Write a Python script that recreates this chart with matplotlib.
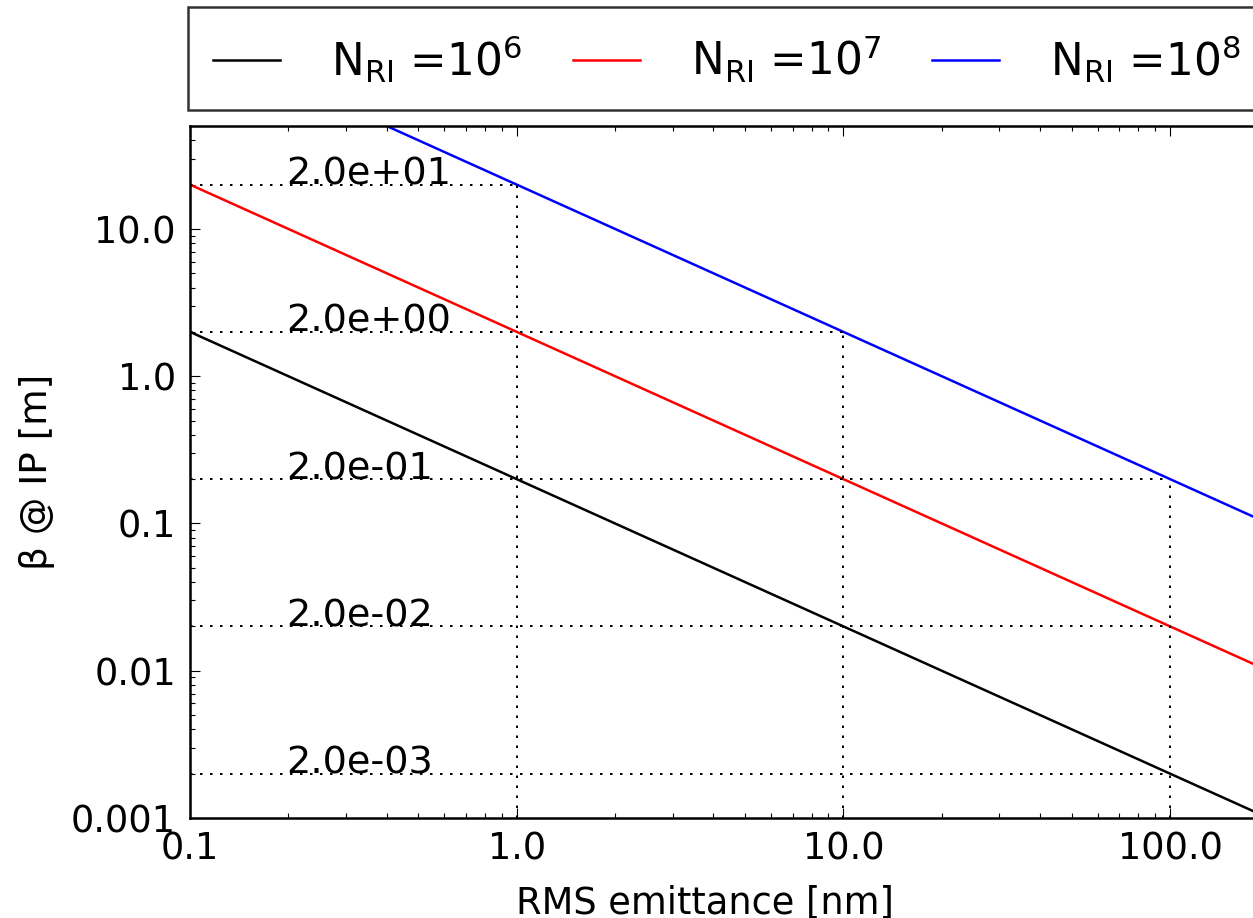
import numpy as np
import matplotlib
matplotlib.use("Agg")
import matplotlib.pyplot as plt
from matplotlib.ticker import NullFormatter, LogLocator

plt.rcParams["font.family"] = ["DejaVu Sans"]
plt.rcParams["mathtext.fontset"] = "dejavusans"
plt.rcParams["mathtext.default"] = "regular"
plt.rcParams["lines.scale_dashes"] = False

# beta* at the IP versus RMS emittance for three particle numbers
emittance = [0.1, 1.0, 10.0, 100.0, 1000.0]
beta_n6 = [2.0, 0.2, 0.02, 0.002, 0.0002]
beta_n7 = [20.0, 2.0, 0.2, 0.02, 0.002]
beta_n8 = [200.0, 20.0, 2.0, 0.2, 0.02]
labels = ["N$_{RI}$ =10$^{6}$", "N$_{RI}$ =10$^{7}$", "N$_{RI}$ =10$^{8}$"]
colors = ["k", "r", "b"]

# reference levels and the emittance where the last curve reaches them
guide_beta = [20.0, 2.0, 0.2, 0.02, 0.002]
guide_emit = [1.0, 10.0, 100.0, 100.0, 100.0]
# vertical guides: emittance and the highest beta hit there
vguide_emit = [1.0, 10.0, 100.0]
vguide_beta = [20.0, 2.0, 0.2]
text_emit = 0.197

xticks = [0.1, 1.0, 10.0, 100.0]
xticklabels = ["0.1", "1.0", "10.0", "100.0"]
yticks = [0.001, 0.01, 0.1, 1.0, 10.0]
yticklabels = ["0.001", "0.01", "0.1", "1.0", "10.0"]

fig = plt.figure(figsize=(12.53, 9.18), dpi=100, facecolor="white")
ax_w = 4 * 326.7
ax = fig.add_axes([190 / 1253, 100 / 918, ax_w / 1253, 692 / 918])
ax.set_xscale("log")
ax.set_yscale("log")
ax.set_xlim(0.1, 1000.0)
ax.set_ylim(0.001, 50.0)

for b, lab, c in zip([beta_n6, beta_n7, beta_n8], labels, colors):
    ax.plot(emittance, b, color=c, lw=1.8, label=lab)

dots = dict(color="k", lw=1.4, linestyle=(0, (1.8, 5.4)))
for b, e in zip(guide_beta, guide_emit):
    ax.plot([0.1, e], [b, b], **dots)
    ax.text(text_emit, b, "%.1e" % b, fontsize=27.5, va="baseline", ha="left")
for e, b in zip(vguide_emit, vguide_beta):
    ax.plot([e, e], [0.001, b], **dots)

ax.set_xticks(xticks)
ax.set_xticklabels(xticklabels)
ax.set_yticks(yticks)
ax.set_yticklabels(yticklabels)
ax.xaxis.set_minor_locator(LogLocator(base=10, subs=np.arange(2, 10)))
ax.yaxis.set_minor_locator(LogLocator(base=10, subs=np.arange(2, 10)))
ax.xaxis.set_minor_formatter(NullFormatter())
ax.yaxis.set_minor_formatter(NullFormatter())
ax.tick_params(which="both", direction="in", top=True, right=True, width=0.8)
ax.tick_params(which="major", length=7.2, labelsize=26.5, pad=9)
ax.tick_params(axis="y", which="major", pad=10)
ax.tick_params(which="minor", length=3.6)
for s in ax.spines.values():
    s.set_linewidth(1.8)

ax.set_xlabel("RMS emittance [nm]", fontsize=26.5)
ax.set_ylabel("β @ IP [m]", fontsize=27)
ax.xaxis.set_label_coords((705 - 190) / ax_w, -0.096)
ax.yaxis.set_label_coords(-(190 - 55) / ax_w, 0.5)

leg = ax.legend(loc="lower left", bbox_to_anchor=(188 / 1253, 1 - 110 / 918),
                bbox_transform=fig.transFigure, ncol=3, fontsize=31.5,
                frameon=True, fancybox=False, borderaxespad=0, borderpad=0.58,
                handlelength=1.52, handletextpad=1.17, columnspacing=1.17)
leg.get_frame().set_edgecolor("k")
leg.get_frame().set_linewidth(1.8)

fig.savefig("out.png", dpi=100, facecolor="white")
